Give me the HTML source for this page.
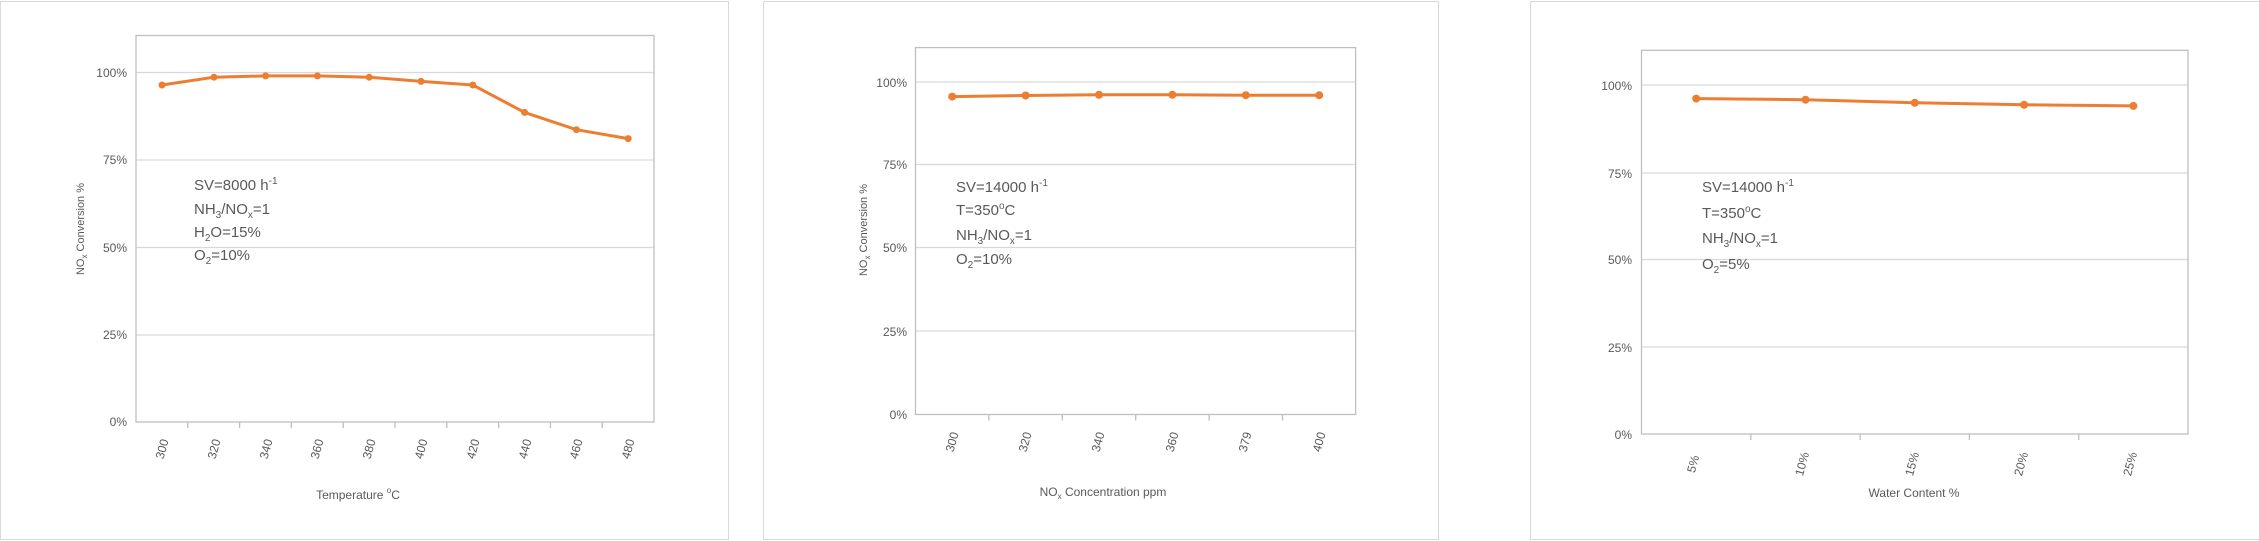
<!DOCTYPE html>
<html><head><meta charset="utf-8"><style>
html,body{margin:0;padding:0;background:#fff;}
svg{display:block;}
text{font-family:"Liberation Sans Narrow","Liberation Sans",sans-serif;fill:#595959;}
.t{font-size:12px;}
.a{font-size:15px;}
.line{fill:none;stroke:#ED7D31;stroke-width:3;stroke-linejoin:round;}
.dot{fill:#ED7D31;}
.g{stroke:#d9d9d9;stroke-width:1.3;}
.pb{fill:none;stroke:#bfbfbf;stroke-width:1.3;}
</style></head><body>
<svg width="2259" height="541" viewBox="0 0 2259 541" xmlns="http://www.w3.org/2000/svg">
<!-- panel borders -->
<rect x="0.5" y="1.5" width="728" height="538" fill="none" stroke="#d9d9d9"/>
<rect x="763.5" y="1.5" width="675" height="538" fill="none" stroke="#d9d9d9"/>
<rect x="1530.5" y="1.5" width="740" height="538" fill="none" stroke="#d9d9d9"/>

<!-- Panel 1 -->
<g>
<line class="g" x1="136" y1="72.5" x2="654" y2="72.5"/>
<line class="g" x1="136" y1="160" x2="654" y2="160"/>
<line class="g" x1="136" y1="247.5" x2="654" y2="247.5"/>
<line class="g" x1="136" y1="335" x2="654" y2="335"/>
<rect class="pb" x="136" y="35.5" width="518" height="386.5"/>
<g stroke="#bfbfbf" stroke-width="1.3">
<line x1="187.8" y1="422" x2="187.8" y2="428"/><line x1="239.6" y1="422" x2="239.6" y2="428"/>
<line x1="291.4" y1="422" x2="291.4" y2="428"/><line x1="343.2" y1="422" x2="343.2" y2="428"/>
<line x1="395" y1="422" x2="395" y2="428"/><line x1="446.8" y1="422" x2="446.8" y2="428"/>
<line x1="498.6" y1="422" x2="498.6" y2="428"/><line x1="550.4" y1="422" x2="550.4" y2="428"/>
<line x1="602.2" y1="422" x2="602.2" y2="428"/>
</g>
<g class="t" text-anchor="end">
<text x="127" y="77">100%</text><text x="127" y="164">75%</text><text x="127" y="252">50%</text>
<text x="127" y="339">25%</text><text x="127" y="426">0%</text>
</g>
<g class="t" text-anchor="middle">
<text transform="translate(166,450) rotate(-75)">300</text>
<text transform="translate(218,450) rotate(-75)">320</text>
<text transform="translate(270,450) rotate(-75)">340</text>
<text transform="translate(321,450) rotate(-75)">360</text>
<text transform="translate(373,450) rotate(-75)">380</text>
<text transform="translate(425,450) rotate(-75)">400</text>
<text transform="translate(477,450) rotate(-75)">420</text>
<text transform="translate(529,450) rotate(-75)">440</text>
<text transform="translate(580,450) rotate(-75)">460</text>
<text transform="translate(632,450) rotate(-75)">480</text>
</g>
<polyline class="line" points="162,85 214,77.2 265.6,75.9 317.4,75.9 369.2,77.2 421,81.4 472.8,85 524.6,112.4 576.4,129.7 628.2,138.6"/>
<g class="dot"><circle cx="162" cy="85" r="3.5"/><circle cx="214" cy="77.2" r="3.5"/><circle cx="265.6" cy="75.9" r="3.5"/><circle cx="317.4" cy="75.9" r="3.5"/><circle cx="369.2" cy="77.2" r="3.5"/><circle cx="421" cy="81.4" r="3.5"/><circle cx="472.8" cy="85" r="3.5"/><circle cx="524.6" cy="112.4" r="3.5"/><circle cx="576.4" cy="129.7" r="3.5"/><circle cx="628.2" cy="138.6" r="3.5"/></g>
<text class="t" transform="translate(84,229) rotate(-90)" text-anchor="middle" style="font-family:'Liberation Sans',sans-serif;font-size:11px">NO<tspan font-size="8" dy="3">x</tspan><tspan dy="-3"> Conversion %</tspan></text>
<text class="t" x="358" y="499" text-anchor="middle">Temperature <tspan font-size="8" dy="-6">o</tspan><tspan dy="6">C</tspan></text>
<g class="a">
<text x="194" y="190">SV=8000 h<tspan font-size="10" dy="-6">-1</tspan></text>
<text x="194" y="214">NH<tspan font-size="10" dy="4">3</tspan><tspan dy="-4">/NO</tspan><tspan font-size="10" dy="4">x</tspan><tspan dy="-4">=1</tspan></text>
<text x="194" y="237">H<tspan font-size="10" dy="4">2</tspan><tspan dy="-4">O=15%</tspan></text>
<text x="194" y="260">O<tspan font-size="10" dy="4">2</tspan><tspan dy="-4">=10%</tspan></text>
</g>
</g>

<!-- Panel 2 -->
<g>
<line class="g" x1="915.5" y1="82" x2="1355.6" y2="82"/>
<line class="g" x1="915.5" y1="164.5" x2="1355.6" y2="164.5"/>
<line class="g" x1="915.5" y1="247.5" x2="1355.6" y2="247.5"/>
<line class="g" x1="915.5" y1="331" x2="1355.6" y2="331"/>
<rect class="pb" x="915.5" y="47.6" width="440.1" height="366.9"/>
<g stroke="#bfbfbf" stroke-width="1.3">
<line x1="988.9" y1="414.5" x2="988.9" y2="420.5"/><line x1="1062.3" y1="414.5" x2="1062.3" y2="420.5"/>
<line x1="1135.7" y1="414.5" x2="1135.7" y2="420.5"/><line x1="1209.1" y1="414.5" x2="1209.1" y2="420.5"/>
<line x1="1282.5" y1="414.5" x2="1282.5" y2="420.5"/>
</g>
<g class="t" text-anchor="end">
<text x="907" y="87">100%</text><text x="907" y="169">75%</text><text x="907" y="252">50%</text>
<text x="907" y="336">25%</text><text x="907" y="419">0%</text>
</g>
<g class="t" text-anchor="middle">
<text transform="translate(956,443) rotate(-75)">300</text>
<text transform="translate(1029,443) rotate(-75)">320</text>
<text transform="translate(1102,443) rotate(-75)">340</text>
<text transform="translate(1176,443) rotate(-75)">360</text>
<text transform="translate(1249,443) rotate(-75)">379</text>
<text transform="translate(1323,443) rotate(-75)">400</text>
</g>
<polyline class="line" points="952.2,96.6 1025.6,95.5 1099,94.8 1172.4,94.8 1245.8,95.2 1319.2,95.2"/>
<g class="dot"><circle cx="952.2" cy="96.6" r="4"/><circle cx="1025.6" cy="95.5" r="4"/><circle cx="1099" cy="94.8" r="4"/><circle cx="1172.4" cy="94.8" r="4"/><circle cx="1245.8" cy="95.2" r="4"/><circle cx="1319.2" cy="95.2" r="4"/></g>
<text class="t" transform="translate(867,230) rotate(-90)" text-anchor="middle" style="font-family:'Liberation Sans',sans-serif;font-size:11px">NO<tspan font-size="8" dy="3">x</tspan><tspan dy="-3"> Conversion %</tspan></text>
<text class="t" x="1103" y="496" text-anchor="middle">NO<tspan font-size="8" dy="3">x</tspan><tspan dy="-3"> Concentration ppm</tspan></text>
<g class="a">
<text x="956" y="192">SV=14000 h<tspan font-size="10" dy="-6">-1</tspan></text>
<text x="956" y="215">T=350<tspan font-size="10" dy="-6">o</tspan><tspan dy="6">C</tspan></text>
<text x="956" y="240">NH<tspan font-size="10" dy="4">3</tspan><tspan dy="-4">/NO</tspan><tspan font-size="10" dy="4">x</tspan><tspan dy="-4">=1</tspan></text>
<text x="956" y="264">O<tspan font-size="10" dy="4">2</tspan><tspan dy="-4">=10%</tspan></text>
</g>
</g>

<!-- Panel 3 -->
<g>
<line class="g" x1="1641.5" y1="85" x2="2188" y2="85"/>
<line class="g" x1="1641.5" y1="173" x2="2188" y2="173"/>
<line class="g" x1="1641.5" y1="259.5" x2="2188" y2="259.5"/>
<line class="g" x1="1641.5" y1="347" x2="2188" y2="347"/>
<rect class="pb" x="1641.5" y="50.3" width="546.5" height="383.7"/>
<g stroke="#bfbfbf" stroke-width="1.3">
<line x1="1750.8" y1="434" x2="1750.8" y2="440"/><line x1="1860.1" y1="434" x2="1860.1" y2="440"/>
<line x1="1969.4" y1="434" x2="1969.4" y2="440"/><line x1="2078.7" y1="434" x2="2078.7" y2="440"/>
</g>
<g class="t" text-anchor="end">
<text x="1632" y="90">100%</text><text x="1632" y="178">75%</text><text x="1632" y="264">50%</text>
<text x="1632" y="352">25%</text><text x="1632" y="439">0%</text>
</g>
<g class="t" text-anchor="middle">
<text transform="translate(1697,465) rotate(-75)">5%</text>
<text transform="translate(1806,465) rotate(-75)">10%</text>
<text transform="translate(1916,465) rotate(-75)">15%</text>
<text transform="translate(2025,465) rotate(-75)">20%</text>
<text transform="translate(2134,465) rotate(-75)">25%</text>
</g>
<polyline class="line" points="1696.2,98.6 1805.5,99.7 1914.8,102.8 2024.1,104.8 2133.4,105.9"/>
<g class="dot"><circle cx="1696.2" cy="98.6" r="4"/><circle cx="1805.5" cy="99.7" r="4"/><circle cx="1914.8" cy="102.8" r="4"/><circle cx="2024.1" cy="104.8" r="4"/><circle cx="2133.4" cy="105.9" r="4"/></g>
<text class="t" x="1914" y="497" text-anchor="middle">Water Content  %</text>
<g class="a">
<text x="1702" y="192">SV=14000 h<tspan font-size="10" dy="-6">-1</tspan></text>
<text x="1702" y="218">T=350<tspan font-size="10" dy="-6">o</tspan><tspan dy="6">C</tspan></text>
<text x="1702" y="243">NH<tspan font-size="10" dy="4">3</tspan><tspan dy="-4">/NO</tspan><tspan font-size="10" dy="4">x</tspan><tspan dy="-4">=1</tspan></text>
<text x="1702" y="269">O<tspan font-size="10" dy="4">2</tspan><tspan dy="-4">=5%</tspan></text>
</g>
</g>
</svg>
</body></html>
